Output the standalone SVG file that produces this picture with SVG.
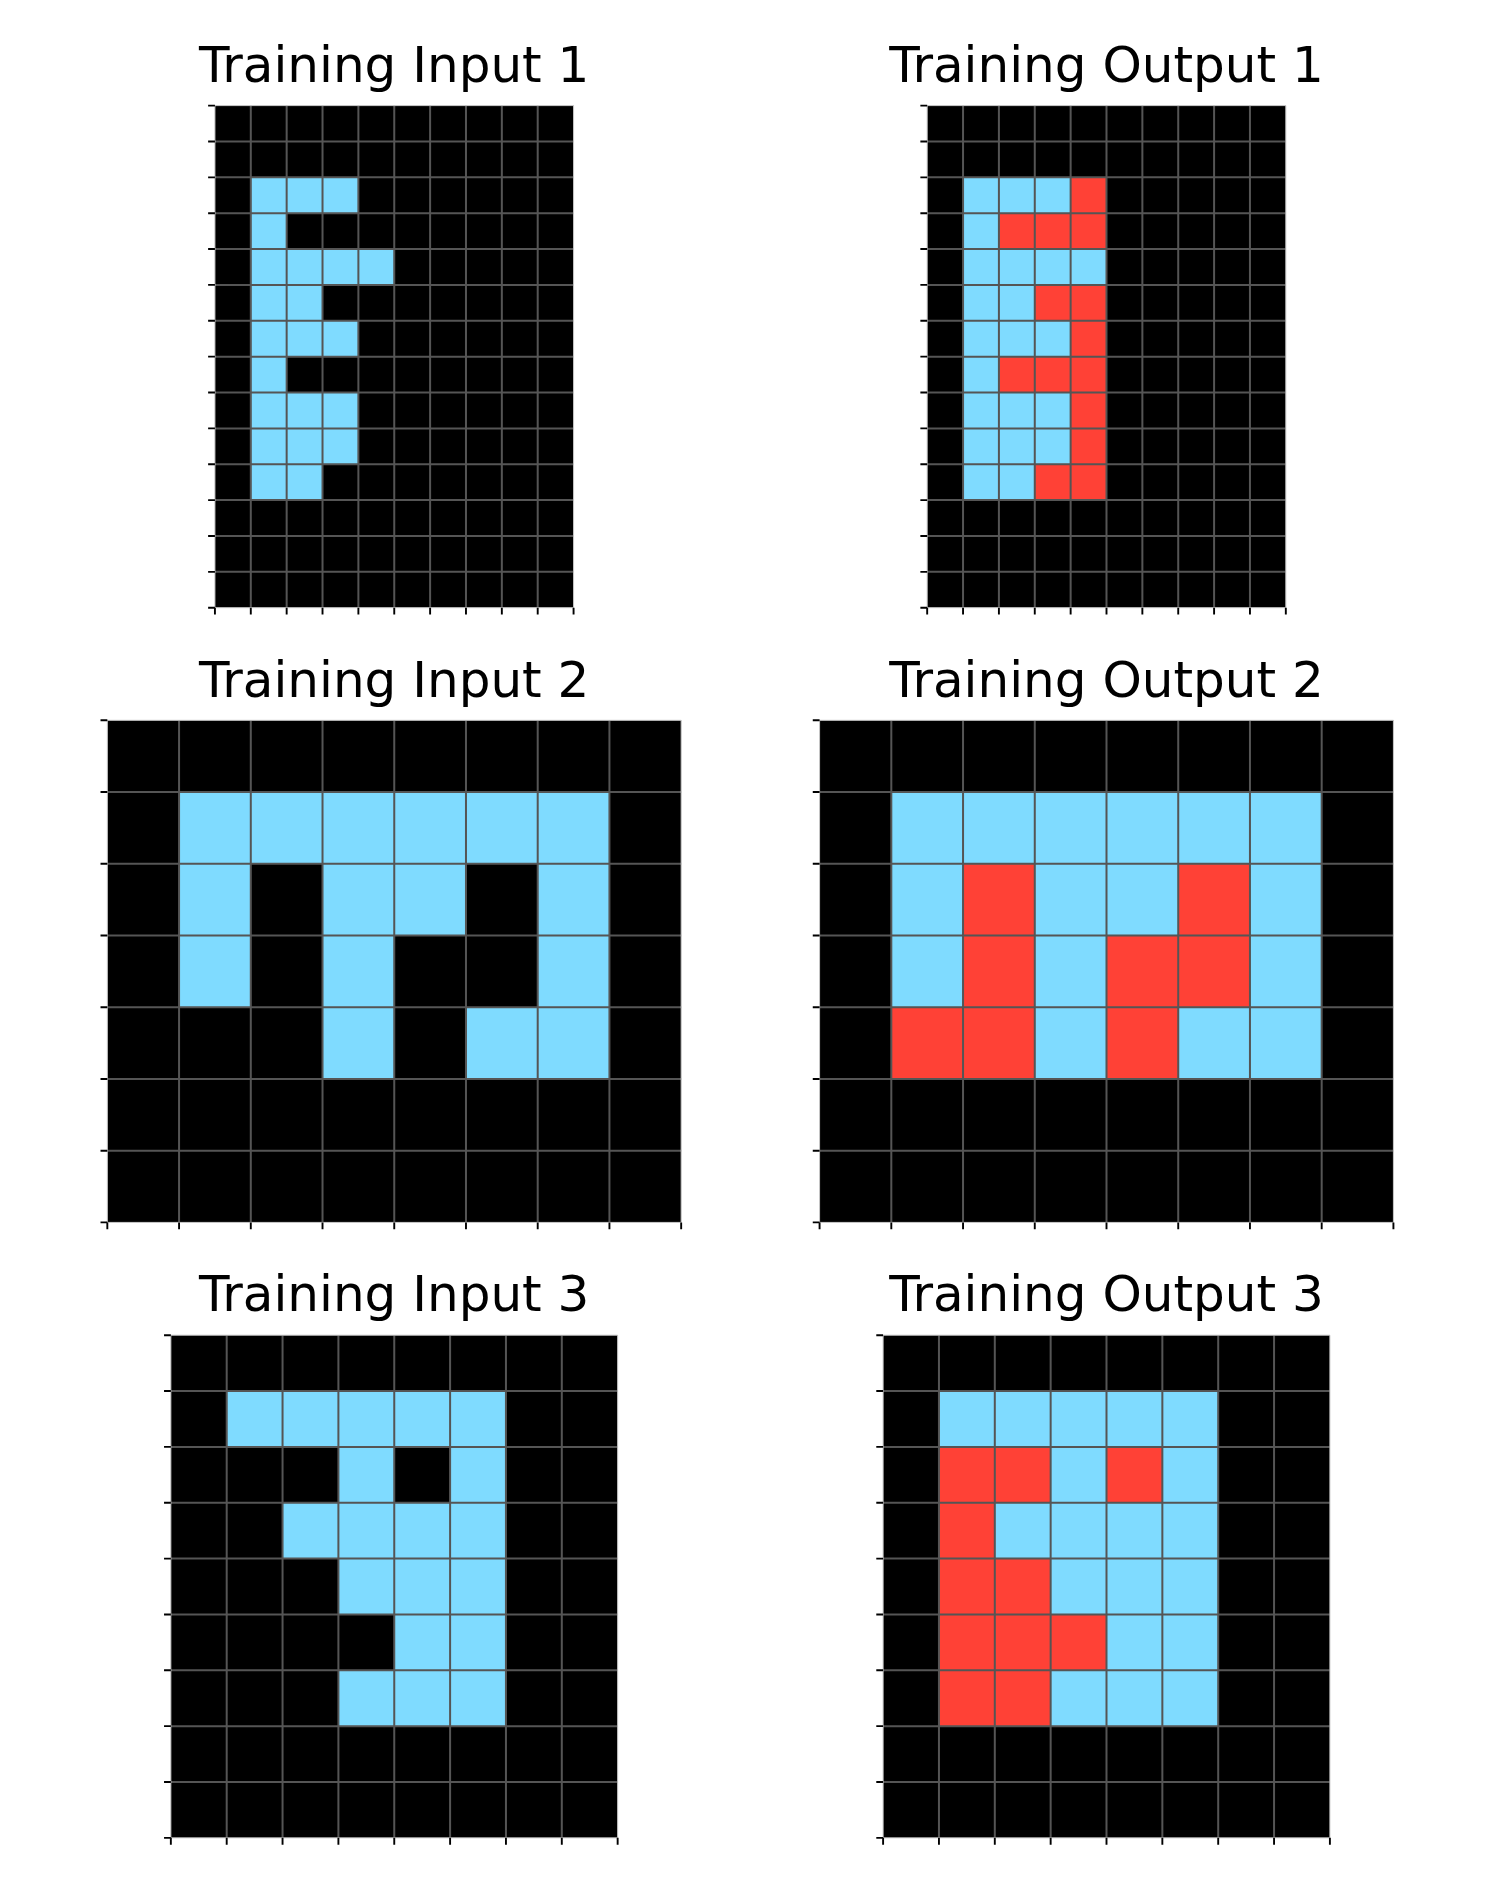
<svg xmlns="http://www.w3.org/2000/svg" width="1500" height="1890" viewBox="0 0 1500 1890">
<style>
.k{fill:#000}
.b{fill:#7FDBFF}
.r{fill:#FF4136}
.g{fill:none;stroke:#555;stroke-width:2}
.t{fill:none;stroke:#000;stroke-width:1.9}
.e{fill:none;stroke:#c8c8c8;stroke-width:1}
.title{font-family:"DejaVu Sans","Liberation Sans",sans-serif;font-size:50px;text-anchor:middle;fill:#000}
</style>
<rect width="1500" height="1890" fill="#fff"/>

<g id="training-input-1">
<text class="title" x="394.25" y="81.8">Training Input 1</text>
<g transform="translate(214.93,105.6) scale(35.864)">
<rect class="k" width="10" height="14"/>
<rect class="b" x="1" y="2" width="3" height="1"/>
<rect class="b" x="1" y="3" width="1" height="1"/>
<rect class="b" x="1" y="4" width="4" height="1"/>
<rect class="b" x="1" y="5" width="2" height="1"/>
<rect class="b" x="1" y="6" width="3" height="1"/>
<rect class="b" x="1" y="7" width="1" height="1"/>
<rect class="b" x="1" y="8" width="3" height="1"/>
<rect class="b" x="1" y="9" width="3" height="1"/>
<rect class="b" x="1" y="10" width="2" height="1"/>
<path class="g" vector-effect="non-scaling-stroke" d="M1 0V14M2 0V14M3 0V14M4 0V14M5 0V14M6 0V14M7 0V14M8 0V14M9 0V14M0 1H10M0 2H10M0 3H10M0 4H10M0 5H10M0 6H10M0 7H10M0 8H10M0 9H10M0 10H10M0 11H10M0 12H10M0 13H10"/>
<rect class="e" vector-effect="non-scaling-stroke" width="10" height="14"/>
<path class="t" vector-effect="non-scaling-stroke" d="M-0.19 0H0M-0.19 1H0M-0.19 2H0M-0.19 3H0M-0.19 4H0M-0.19 5H0M-0.19 6H0M-0.19 7H0M-0.19 8H0M-0.19 9H0M-0.19 10H0M-0.19 11H0M-0.19 12H0M-0.19 13H0M-0.19 14H0M0 14V14.19M1 14V14.19M2 14V14.19M3 14V14.19M4 14V14.19M5 14V14.19M6 14V14.19M7 14V14.19M8 14V14.19M9 14V14.19M10 14V14.19"/>
</g>
</g>

<g id="training-output-1">
<text class="title" x="1106.5" y="81.8">Training Output 1</text>
<g transform="translate(927.18,105.6) scale(35.864)">
<rect class="k" width="10" height="14"/>
<rect class="b" x="1" y="2" width="3" height="1"/><rect class="r" x="4" y="2" width="1" height="1"/>
<rect class="b" x="1" y="3" width="1" height="1"/><rect class="r" x="2" y="3" width="3" height="1"/>
<rect class="b" x="1" y="4" width="4" height="1"/>
<rect class="b" x="1" y="5" width="2" height="1"/><rect class="r" x="3" y="5" width="2" height="1"/>
<rect class="b" x="1" y="6" width="3" height="1"/><rect class="r" x="4" y="6" width="1" height="1"/>
<rect class="b" x="1" y="7" width="1" height="1"/><rect class="r" x="2" y="7" width="3" height="1"/>
<rect class="b" x="1" y="8" width="3" height="1"/><rect class="r" x="4" y="8" width="1" height="1"/>
<rect class="b" x="1" y="9" width="3" height="1"/><rect class="r" x="4" y="9" width="1" height="1"/>
<rect class="b" x="1" y="10" width="2" height="1"/><rect class="r" x="3" y="10" width="2" height="1"/>
<path class="g" vector-effect="non-scaling-stroke" d="M1 0V14M2 0V14M3 0V14M4 0V14M5 0V14M6 0V14M7 0V14M8 0V14M9 0V14M0 1H10M0 2H10M0 3H10M0 4H10M0 5H10M0 6H10M0 7H10M0 8H10M0 9H10M0 10H10M0 11H10M0 12H10M0 13H10"/>
<rect class="e" vector-effect="non-scaling-stroke" width="10" height="14"/>
<path class="t" vector-effect="non-scaling-stroke" d="M-0.19 0H0M-0.19 1H0M-0.19 2H0M-0.19 3H0M-0.19 4H0M-0.19 5H0M-0.19 6H0M-0.19 7H0M-0.19 8H0M-0.19 9H0M-0.19 10H0M-0.19 11H0M-0.19 12H0M-0.19 13H0M-0.19 14H0M0 14V14.19M1 14V14.19M2 14V14.19M3 14V14.19M4 14V14.19M5 14V14.19M6 14V14.19M7 14V14.19M8 14V14.19M9 14V14.19M10 14V14.19"/>
</g>
</g>

<g id="training-input-2">
<text class="title" x="394.25" y="696.5">Training Input 2</text>
<g transform="translate(107.33,720.3) scale(71.73)">
<rect class="k" width="8" height="7"/>
<rect class="b" x="1" y="1" width="6" height="1"/>
<rect class="b" x="1" y="2" width="1" height="1"/><rect class="b" x="3" y="2" width="2" height="1"/><rect class="b" x="6" y="2" width="1" height="1"/>
<rect class="b" x="1" y="3" width="1" height="1"/><rect class="b" x="3" y="3" width="1" height="1"/><rect class="b" x="6" y="3" width="1" height="1"/>
<rect class="b" x="3" y="4" width="1" height="1"/><rect class="b" x="5" y="4" width="2" height="1"/>
<path class="g" vector-effect="non-scaling-stroke" d="M1 0V7M2 0V7M3 0V7M4 0V7M5 0V7M6 0V7M7 0V7M0 1H8M0 2H8M0 3H8M0 4H8M0 5H8M0 6H8"/>
<rect class="e" vector-effect="non-scaling-stroke" width="8" height="7"/>
<path class="t" vector-effect="non-scaling-stroke" d="M-0.095 0H0M-0.095 1H0M-0.095 2H0M-0.095 3H0M-0.095 4H0M-0.095 5H0M-0.095 6H0M-0.095 7H0M0 7V7.095M1 7V7.095M2 7V7.095M3 7V7.095M4 7V7.095M5 7V7.095M6 7V7.095M7 7V7.095M8 7V7.095"/>
</g>
</g>

<g id="training-output-2">
<text class="title" x="1106.5" y="696.5">Training Output 2</text>
<g transform="translate(819.58,720.3) scale(71.73)">
<rect class="k" width="8" height="7"/>
<rect class="b" x="1" y="1" width="6" height="1"/>
<rect class="b" x="1" y="2" width="1" height="1"/><rect class="r" x="2" y="2" width="1" height="1"/><rect class="b" x="3" y="2" width="2" height="1"/><rect class="r" x="5" y="2" width="1" height="1"/><rect class="b" x="6" y="2" width="1" height="1"/>
<rect class="b" x="1" y="3" width="1" height="1"/><rect class="r" x="2" y="3" width="1" height="1"/><rect class="b" x="3" y="3" width="1" height="1"/><rect class="r" x="4" y="3" width="2" height="1"/><rect class="b" x="6" y="3" width="1" height="1"/>
<rect class="r" x="1" y="4" width="2" height="1"/><rect class="b" x="3" y="4" width="1" height="1"/><rect class="r" x="4" y="4" width="1" height="1"/><rect class="b" x="5" y="4" width="2" height="1"/>
<path class="g" vector-effect="non-scaling-stroke" d="M1 0V7M2 0V7M3 0V7M4 0V7M5 0V7M6 0V7M7 0V7M0 1H8M0 2H8M0 3H8M0 4H8M0 5H8M0 6H8"/>
<rect class="e" vector-effect="non-scaling-stroke" width="8" height="7"/>
<path class="t" vector-effect="non-scaling-stroke" d="M-0.095 0H0M-0.095 1H0M-0.095 2H0M-0.095 3H0M-0.095 4H0M-0.095 5H0M-0.095 6H0M-0.095 7H0M0 7V7.095M1 7V7.095M2 7V7.095M3 7V7.095M4 7V7.095M5 7V7.095M6 7V7.095M7 7V7.095M8 7V7.095"/>
</g>
</g>

<g id="training-input-3">
<text class="title" x="394.25" y="1311.4">Training Input 3</text>
<g transform="translate(170.85,1335.2) scale(55.85)">
<rect class="k" width="8" height="9"/>
<rect class="b" x="1" y="1" width="5" height="1"/>
<rect class="b" x="3" y="2" width="1" height="1"/><rect class="b" x="5" y="2" width="1" height="1"/>
<rect class="b" x="2" y="3" width="4" height="1"/>
<rect class="b" x="3" y="4" width="3" height="1"/>
<rect class="b" x="4" y="5" width="2" height="1"/>
<rect class="b" x="3" y="6" width="3" height="1"/>
<path class="g" vector-effect="non-scaling-stroke" d="M1 0V9M2 0V9M3 0V9M4 0V9M5 0V9M6 0V9M7 0V9M0 1H8M0 2H8M0 3H8M0 4H8M0 5H8M0 6H8M0 7H8M0 8H8"/>
<rect class="e" vector-effect="non-scaling-stroke" width="8" height="9"/>
<path class="t" vector-effect="non-scaling-stroke" d="M-0.122 0H0M-0.122 1H0M-0.122 2H0M-0.122 3H0M-0.122 4H0M-0.122 5H0M-0.122 6H0M-0.122 7H0M-0.122 8H0M-0.122 9H0M0 9V9.122M1 9V9.122M2 9V9.122M3 9V9.122M4 9V9.122M5 9V9.122M6 9V9.122M7 9V9.122M8 9V9.122"/>
</g>
</g>

<g id="training-output-3">
<text class="title" x="1106.5" y="1311.4">Training Output 3</text>
<g transform="translate(883.1,1335.2) scale(55.85)">
<rect class="k" width="8" height="9"/>
<rect class="b" x="1" y="1" width="5" height="1"/>
<rect class="r" x="1" y="2" width="2" height="1"/><rect class="b" x="3" y="2" width="1" height="1"/><rect class="r" x="4" y="2" width="1" height="1"/><rect class="b" x="5" y="2" width="1" height="1"/>
<rect class="r" x="1" y="3" width="1" height="1"/><rect class="b" x="2" y="3" width="4" height="1"/>
<rect class="r" x="1" y="4" width="2" height="1"/><rect class="b" x="3" y="4" width="3" height="1"/>
<rect class="r" x="1" y="5" width="3" height="1"/><rect class="b" x="4" y="5" width="2" height="1"/>
<rect class="r" x="1" y="6" width="2" height="1"/><rect class="b" x="3" y="6" width="3" height="1"/>
<path class="g" vector-effect="non-scaling-stroke" d="M1 0V9M2 0V9M3 0V9M4 0V9M5 0V9M6 0V9M7 0V9M0 1H8M0 2H8M0 3H8M0 4H8M0 5H8M0 6H8M0 7H8M0 8H8"/>
<rect class="e" vector-effect="non-scaling-stroke" width="8" height="9"/>
<path class="t" vector-effect="non-scaling-stroke" d="M-0.122 0H0M-0.122 1H0M-0.122 2H0M-0.122 3H0M-0.122 4H0M-0.122 5H0M-0.122 6H0M-0.122 7H0M-0.122 8H0M-0.122 9H0M0 9V9.122M1 9V9.122M2 9V9.122M3 9V9.122M4 9V9.122M5 9V9.122M6 9V9.122M7 9V9.122M8 9V9.122"/>
</g>
</g>
</svg>
